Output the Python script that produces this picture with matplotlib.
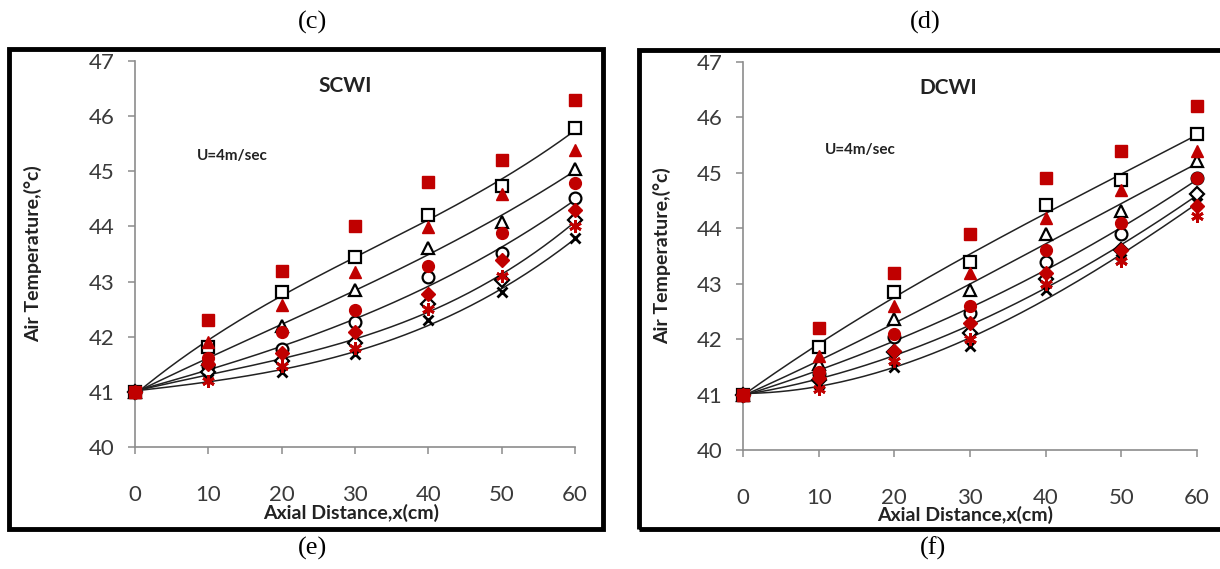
import numpy as np
import matplotlib.pyplot as plt
from matplotlib.patches import Rectangle

x = [0, 10, 20, 30, 40, 50, 60]

# SCWI panel: predicted (black, open markers + fitted line) and measured (red, filled)
scwi_pred = {
    's': [41, 41.82, 42.81, 43.45, 44.2, 44.73, 45.79],
    '^': [41, 41.6, 42.2, 42.84, 43.6, 44.08, 45.05],
    'o': [41, 41.46, 41.77, 42.26, 43.08, 43.51, 44.51],
    'D': [41, 41.36, 41.56, 41.89, 42.6, 43.03, 44.11],
    'x': [41, 41.24, 41.36, 41.68, 42.31, 42.81, 43.79],
}
scwi_meas = {
    's': [41, 42.3, 43.2, 44.0, 44.8, 45.2, 46.3],
    '^': [41, 41.9, 42.58, 43.18, 43.99, 44.58, 45.38],
    'o': [41, 41.62, 42.09, 42.49, 43.29, 43.88, 44.79],
    'D': [41, 41.5, 41.7, 42.09, 42.78, 43.4, 44.3],
    '*': [41, 41.2, 41.46, 41.8, 42.5, 43.11, 44.0],
}

# DCWI panel
dcwi_pred = {
    's': [41, 41.86, 42.85, 43.4, 44.42, 44.88, 45.71],
    '^': [41, 41.55, 42.36, 42.89, 43.89, 44.31, 45.21],
    'o': [41, 41.38, 42.04, 42.47, 43.39, 43.9, 44.91],
    'D': [41, 41.27, 41.76, 42.12, 43.09, 43.6, 44.62],
    'x': [41, 41.2, 41.5, 41.88, 42.89, 43.45, 44.46],
}
dcwi_meas = {
    's': [41, 42.2, 43.19, 43.89, 44.9, 45.39, 46.21],
    '^': [41, 41.7, 42.59, 43.2, 44.19, 44.7, 45.39],
    'o': [41, 41.4, 42.1, 42.6, 43.61, 44.1, 44.91],
    'D': [41, 41.3, 41.79, 42.3, 43.2, 43.61, 44.4],
    '*': [41, 41.1, 41.6, 42.0, 42.99, 43.41, 44.22],
}

RED = '#C00000'
GRAY = '#8c8c8c'
TXT = '#3a3a3a'
msize = {'s': 8.5, '^': 8.5, 'o': 8.5, 'D': 7, 'x': 7, '*': 9}


def trend(xs, ys, deg=3):
    # polynomial trend line through the predicted points
    c = np.polyfit(xs, ys, deg)
    fx = np.linspace(xs[0], xs[-1], 200)
    return fx, np.polyval(c, fx)


def draw_panel(ax, pred, meas):
    for m, ys in pred.items():
        fx, fy = trend(x, ys)
        ax.plot(fx, fy, color='#222222', lw=1.1, zorder=2, clip_on=False)
    for m, ys in pred.items():
        if m == 'x':
            ax.plot(x, ys, ls='none', marker='x', color='black', ms=msize[m],
                    mew=2, zorder=3, clip_on=False)
        else:
            ax.plot(x, ys, ls='none', marker=m, mfc='white', mec='black',
                    ms=msize[m], mew=1.6, zorder=3, clip_on=False)
    for m, ys in meas.items():
        if m == '*':
            ax.plot(x, ys, ls='none', marker=(6, 2, 0), color=RED, ms=msize[m],
                    mew=2, zorder=4, clip_on=False)
        else:
            ax.plot(x, ys, ls='none', marker=m, color=RED, ms=msize[m],
                    zorder=4, clip_on=False)

    ax.set_xlim(0, 60)
    ax.set_ylim(40, 47)
    ax.set_xticks(range(0, 61, 10))
    ax.set_yticks(range(40, 48))
    for side in ('top', 'right'):
        ax.spines[side].set_visible(False)
    for side in ('left', 'bottom'):
        ax.spines[side].set_color(GRAY)
        ax.spines[side].set_linewidth(1.2)
    ax.tick_params(colors=GRAY, labelcolor=TXT, labelsize=16, length=5,
                   width=1.1, direction='out')
    ax.tick_params(axis='x', pad=22)
    ax.tick_params(axis='y', pad=10)
    ax.set_xlabel('Axial Distance,x(cm)', fontsize=14, fontweight='bold',
                  color='#222222')
    ax.set_ylabel('Air Temperature,(°c)', fontsize=14, fontweight='bold',
                  color='#222222')


fig = plt.figure(figsize=(12.2, 5.69), dpi=100)
plt.rcParams['font.family'] = ['Lato', 'DejaVu Sans']

ax1 = fig.add_axes([0.1107, 0.2144, 0.3607, 0.6784])
ax2 = fig.add_axes([0.609, 0.2091, 0.3721, 0.6819])
draw_panel(ax1, scwi_pred, scwi_meas)
draw_panel(ax2, dcwi_pred, dcwi_meas)

ax1.xaxis.set_label_coords(0.49, -0.147)
ax2.xaxis.set_label_coords(0.49, -0.145)
ax1.yaxis.set_label_coords(-0.212, 0.5)
ax2.yaxis.set_label_coords(-0.158, 0.5)

tkw = dict(fontsize=15, fontweight='bold', color='#222222', ha='center',
           va='center')
ax1.text(0.477, 0.935, 'SCWI', transform=ax1.transAxes, **tkw)
ax2.text(0.452, 0.933, 'DCWI', transform=ax2.transAxes, **tkw)
ukw = dict(fontsize=11, fontweight='bold', color='#222222', va='center')
ax1.text(0.141, 0.755, 'U=4m/sec', transform=ax1.transAxes, **ukw)
ax2.text(0.18, 0.773, 'U=4m/sec', transform=ax2.transAxes, **ukw)

# thick frames around each panel
for x0, y0, x1, y1 in [(9, 49, 603, 529), (639, 50, 1225, 529)]:
    fig.patches.append(Rectangle((x0 / 1220, 1 - y1 / 569), (x1 - x0) / 1220,
                                 (y1 - y0) / 569, transform=fig.transFigure,
                                 fill=False, lw=3.5, ec='black', clip_on=False))

serif = dict(fontsize=19, family='Liberation Serif', ha='center', va='center')
fig.text(313 / 1220, 1 - 22 / 569, '(c)', **serif)
fig.text(925 / 1220, 1 - 22 / 569, '(d)', **serif)
fig.text(313 / 1220, 1 - 548 / 569, '(e)', **serif)
fig.text(933 / 1220, 1 - 548 / 569, '(f)', **serif)

fig.savefig('out.png', dpi=100, facecolor='white')
